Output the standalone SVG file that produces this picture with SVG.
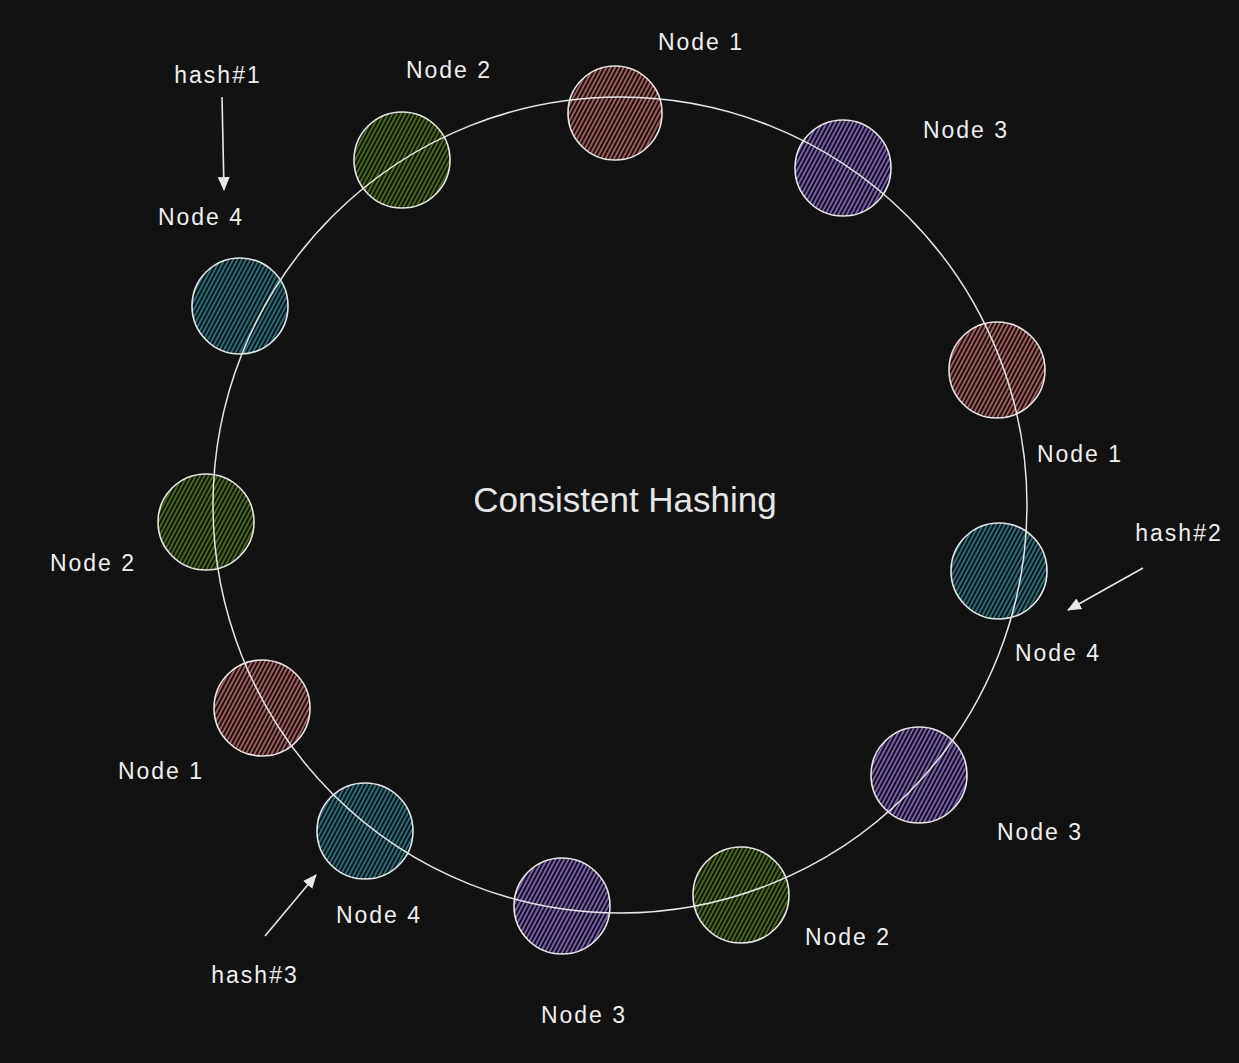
<svg xmlns="http://www.w3.org/2000/svg" width="1239" height="1063" viewBox="0 0 1239 1063">
<defs>
<pattern id="hRed" patternUnits="userSpaceOnUse" width="3.8" height="8" patternTransform="rotate(28)"><line x1="1" y1="0" x2="1" y2="8" stroke="#c46565" stroke-width="1.6"/></pattern>
<pattern id="hPurple" patternUnits="userSpaceOnUse" width="3.8" height="8" patternTransform="rotate(28)"><line x1="1" y1="0" x2="1" y2="8" stroke="#8c6ad6" stroke-width="1.6"/></pattern>
<pattern id="hGreen" patternUnits="userSpaceOnUse" width="3.8" height="8" patternTransform="rotate(28)"><line x1="1" y1="0" x2="1" y2="8" stroke="#4f7a12" stroke-width="1.6"/></pattern>
<pattern id="hTeal" patternUnits="userSpaceOnUse" width="3.8" height="8" patternTransform="rotate(28)"><line x1="1" y1="0" x2="1" y2="8" stroke="#25828f" stroke-width="1.6"/></pattern>
<marker id="arr" viewBox="0 0 14 14" refX="13" refY="7" markerWidth="14" markerHeight="14" markerUnits="userSpaceOnUse" orient="auto"><path d="M0,1 L14,7 L0,13 Z" fill="#e8e8e8"/></marker>
</defs>
<style>
.node circle{stroke:#e6e6e6;stroke-width:1.6}
.lbl{font-family:"Liberation Sans",Arial,sans-serif;font-size:23px;letter-spacing:2px;fill:#eeeeee;text-anchor:middle}
.ring{fill:none;stroke:#e6e6e6;stroke-width:1.5}
.conn line{stroke:#e6e6e6;stroke-width:1.6}
</style>
<rect width="1239" height="1063" fill="#121212"/>
<g id="nodes">
<g id="n1-top" class="node"><circle cx="615" cy="113" r="47" fill="url(#hRed)"/></g>
<g id="n3-topright" class="node"><circle cx="843" cy="168" r="48" fill="url(#hPurple)"/></g>
<g id="n2-top" class="node"><circle cx="402" cy="160" r="48" fill="url(#hGreen)"/></g>
<g id="n4-topleft" class="node"><circle cx="240" cy="306" r="48" fill="url(#hTeal)"/></g>
<g id="n1-right" class="node"><circle cx="997" cy="370" r="48" fill="url(#hRed)"/></g>
<g id="n4-right" class="node"><circle cx="999" cy="571" r="48" fill="url(#hTeal)"/></g>
<g id="n3-right" class="node"><circle cx="919" cy="775" r="48" fill="url(#hPurple)"/></g>
<g id="n2-bottom" class="node"><circle cx="741" cy="895" r="48" fill="url(#hGreen)"/></g>
<g id="n3-bottom" class="node"><circle cx="562" cy="906" r="48" fill="url(#hPurple)"/></g>
<g id="n4-bottomleft" class="node"><circle cx="365" cy="831" r="48" fill="url(#hTeal)"/></g>
<g id="n1-left" class="node"><circle cx="262" cy="708" r="48" fill="url(#hRed)"/></g>
<g id="n2-left" class="node"><circle cx="206" cy="522" r="48" fill="url(#hGreen)"/></g>
</g>
<ellipse class="ring" cx="620" cy="505" rx="407" ry="408"/>
<g id="connectors" class="conn">
<line x1="222" y1="97" x2="224" y2="190" marker-end="url(#arr)"/>
<line x1="1143" y1="568" x2="1068" y2="610" marker-end="url(#arr)"/>
<line x1="265" y1="936" x2="316" y2="875" marker-end="url(#arr)"/>
</g>
<g id="labels">
<text class="lbl" x="701" y="50">Node 1</text>
<text class="lbl" x="966" y="138">Node 3</text>
<text class="lbl" x="449" y="78">Node 2</text>
<text class="lbl" x="218" y="83">hash#1</text>
<text class="lbl" x="201" y="225">Node 4</text>
<text class="lbl" x="1080" y="462">Node 1</text>
<text class="lbl" x="1179" y="541">hash#2</text>
<text class="lbl" x="1058" y="661">Node 4</text>
<text class="lbl" x="93" y="571">Node 2</text>
<text class="lbl" x="161" y="779">Node 1</text>
<text class="lbl" x="1040" y="840">Node 3</text>
<text class="lbl" x="848" y="945">Node 2</text>
<text class="lbl" x="379" y="923">Node 4</text>
<text class="lbl" x="255" y="983">hash#3</text>
<text class="lbl" x="584" y="1023">Node 3</text>
<text x="625" y="512" font-family="'Liberation Sans',Arial,sans-serif" font-size="35" fill="#e6e6e6" text-anchor="middle">Consistent Hashing</text>
</g>
</svg>
